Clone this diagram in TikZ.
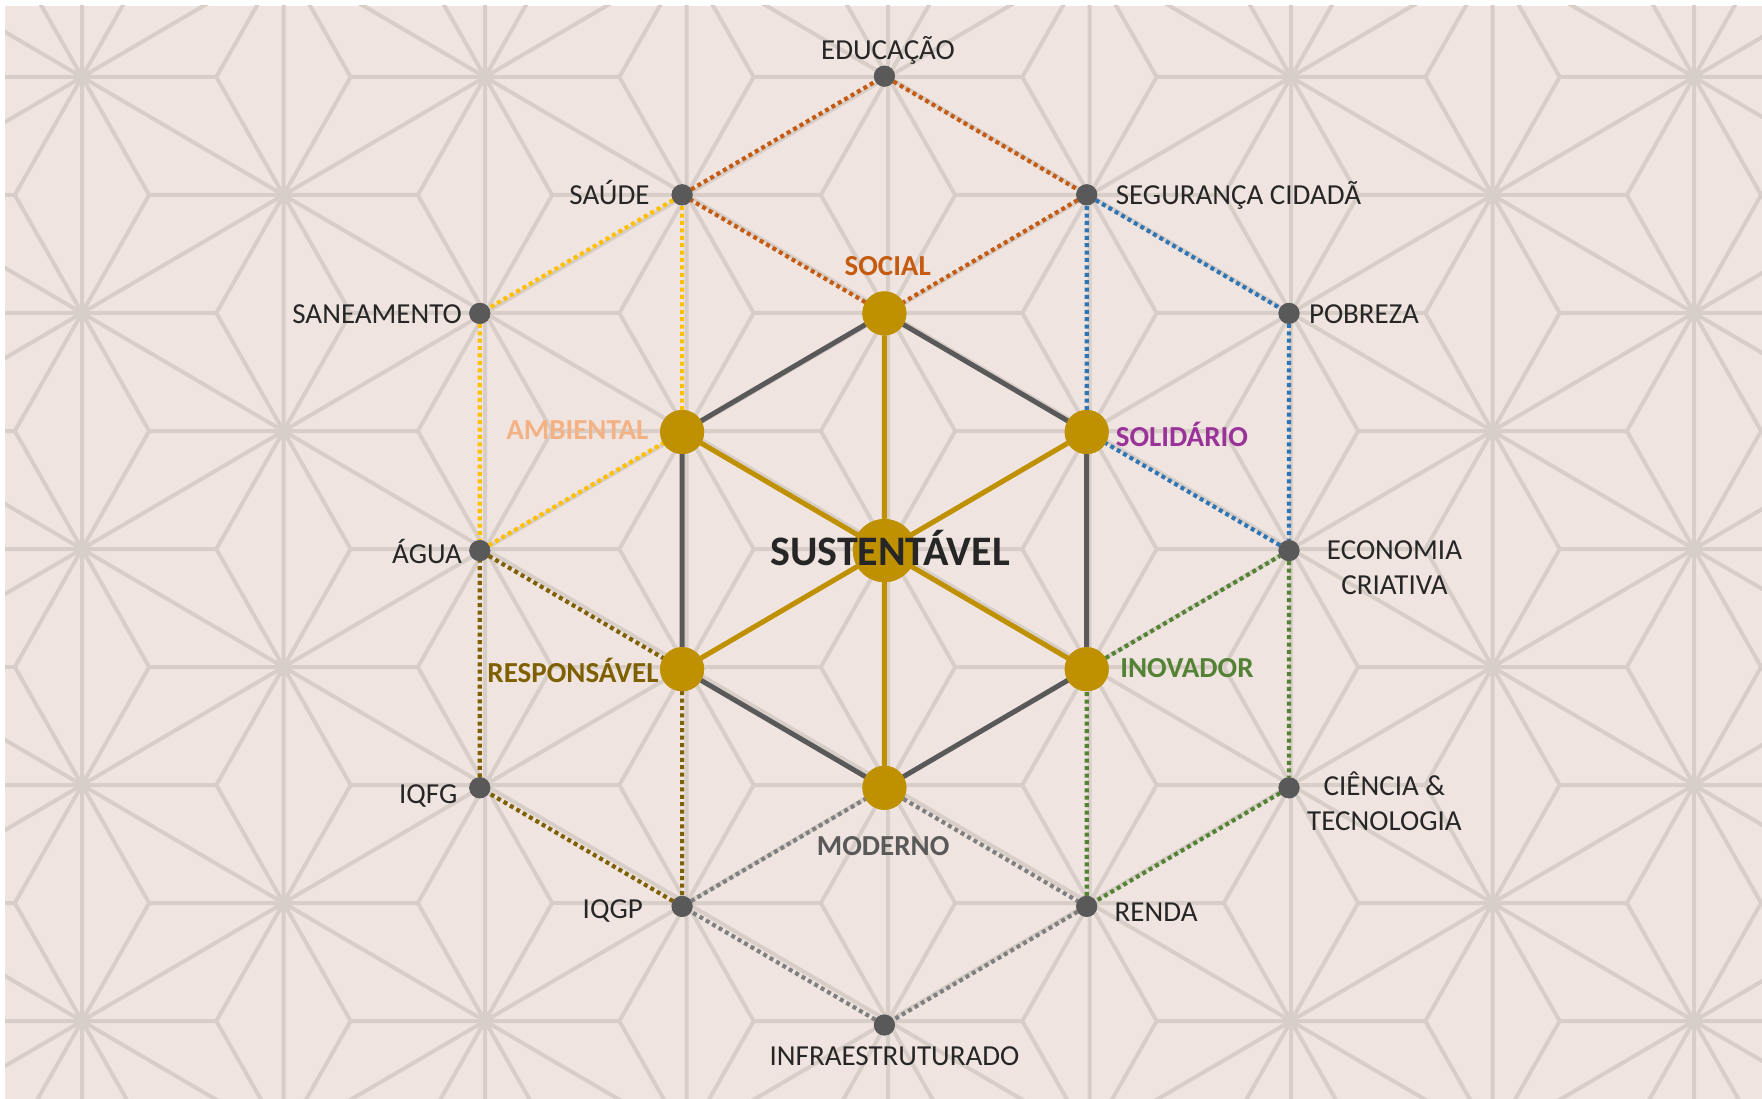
\documentclass[tikz,border=0pt]{standalone}
\usepackage{fontspec}
\setmainfont{Carlito}
\definecolor{bgc}{HTML}{EFE4DF}
\definecolor{patc}{HTML}{D8CEC8}
\definecolor{gold}{HTML}{BF9000}
\definecolor{dgray}{HTML}{595959}
\definecolor{mgray}{HTML}{7F7F7F}
\definecolor{txt}{HTML}{262626}
\definecolor{corange}{HTML}{C55A11}
\definecolor{cyellow}{HTML}{FFC000}
\definecolor{clight}{HTML}{F4B183}
\definecolor{cblue}{HTML}{2E75B6}
\definecolor{cpurple}{HTML}{993399}
\definecolor{cgreen}{HTML}{548235}
\definecolor{cbrown}{HTML}{7F6000}
\begin{document}
\begin{tikzpicture}[x=1pt,y=-1pt,
  pat/.style={draw=patc, line width=4pt, line cap=round},
  dot/.style={circle, fill=dgray, minimum size=21pt, inner sep=0pt, outer sep=0pt},
  gnode/.style={circle, fill=gold, minimum size=44pt, inner sep=0pt, outer sep=0pt},
  cnode/.style={circle, fill=gold, minimum size=63pt, inner sep=0pt, outer sep=0pt},
  dl/.style={line width=4.2pt, dash pattern=on 4pt off 3.4pt},
  sl/.style={line width=5pt},
  lbl/.style={inner sep=0pt, outer sep=0pt, text=txt, font=\fontsize{29}{35}\selectfont},
  blbl/.style={inner sep=0pt, outer sep=0pt, font=\fontsize{29}{35}\selectfont\bfseries}
]
\useasboundingbox (0,0) rectangle (1762,1099);
\fill[white] (0,0) rectangle (1762,1099);
\fill[bgc] (5,6) rectangle (1762,1099);
% background asanoha pattern
\begin{scope}
\clip (5,6) rectangle (1762,1099);
\begin{scope}[shift={(888,549)}, x=201.5pt, y=-118pt]
\foreach \i in {-5,...,5} {
  \foreach \j in {-6,...,6} {
    \pgfmathparse{int(mod(\i+\j+100,2))}
    \ifnum\pgfmathresult=0
      \draw[pat] (\i,\j) -- ++(0,2) (\i,\j) -- ++(1,1) (\i,\j) -- ++(1,-1)
        (\i,\j) -- ++(2/3,0) (\i,\j) -- ++(-2/3,0)
        (\i,\j) -- ++(1/3,1) (\i,\j) -- ++(1/3,-1)
        (\i,\j) -- ++(-1/3,1) (\i,\j) -- ++(-1/3,-1);
    \fi
  }
}
\end{scope}
\end{scope}
% nodes
\begin{scope}[shift={(884.4,550.6)}, x=202.3pt, y=-118.6pt]
\node[dot] (edu) at (0,-4) {};
\node[dot] (sau) at (-1,-3) {};
\node[dot] (seg) at (1,-3) {};
\node[dot] (san) at (-2,-2) {};
\node[gnode] (soc) at (0,-2) {};
\node[dot] (pob) at (2,-2) {};
\node[gnode] (amb) at (-1,-1) {};
\node[gnode] (sol) at (1,-1) {};
\node[dot] (agu) at (-2,0) {};
\node[cnode] (sus) at (0,0) {};
\node[dot] (eco) at (2,0) {};
\node[gnode] (res) at (-1,1) {};
\node[gnode] (ino) at (1,1) {};
\node[dot] (iqfg) at (-2,2) {};
\node[gnode] (mod) at (0,2) {};
\node[dot] (cie) at (2,2) {};
\node[dot] (iqgp) at (-1,3) {};
\node[dot] (ren) at (1,3) {};
\node[dot] (inf) at (0,4) {};
\end{scope}
% connectors
\draw[dl, corange] (sau) -- (edu) -- (seg) -- (soc) -- (sau);
\draw[dl, cyellow] (amb) -- (sau) -- (san) -- (agu) -- (amb);
\draw[dl, cblue] (seg) -- (pob) -- (eco) -- (sol) -- (seg);
\draw[dl, cgreen] (ino) -- (eco) -- (cie) -- (ren) -- (ino);
\draw[dl, mgray] (mod) -- (ren) -- (inf) -- (iqgp) -- (mod);
\draw[dl, cbrown] (agu) -- (res) -- (iqgp) -- (iqfg) -- (agu);
\draw[sl, dgray] (soc) -- (sol) -- (ino) -- (mod) -- (res) -- (amb) -- (soc);
\draw[sl, gold] (sus) -- (soc) (sus) -- (sol) (sus) -- (ino) (sus) -- (mod) (sus) -- (res) (sus) -- (amb);
% redraw node discs on top of connectors
\foreach \n in {edu,sau,seg,san,pob,agu,eco,iqfg,cie,iqgp,ren,inf}
  \fill[dgray] (\n.center) circle (10.5);
\foreach \n in {soc,amb,sol,res,ino,mod}
  \fill[gold] (\n.center) circle (22);
\fill[gold] (sus.center) circle (31.5);
% labels
\node[lbl, anchor=base] (tedu) at (888,59.9) {EDUCAÇÃO};
\node[lbl, anchor=base east] (tsau) at (649.5,205) {SAÚDE};
\node[lbl, anchor=base west] (tseg) at (1115.8,205) {SEGURANÇA CIDADÃ};
\node[lbl, anchor=base east] (tsan) at (461.8,324) {SANEAMENTO};
\node[lbl, anchor=base west] (tpob) at (1309,324) {POBREZA};
\node[blbl, anchor=base, text=corange] (tsoc) at (887.7,275.6) {SOCIAL};
\node[blbl, anchor=base east, text=clight] (tamb) at (648.4,439.7) {AMBIENTAL};
\node[blbl, anchor=base west, text=cpurple] (tsol) at (1115.8,446.3) {SOLIDÁRIO};
\node[inner sep=0pt, anchor=base, text=txt, font=\fontsize{42}{48}\selectfont\bfseries] (tsus) at (890,565.5) {SUSTENTÁVEL};
\node[lbl, anchor=base east] (tagu) at (461.8,563) {ÁGUA};
\node[lbl, anchor=base] (teco1) at (1394.5,559.9) {ECONOMIA};
\node[lbl, anchor=base] (teco2) at (1394.5,594.7) {CRIATIVA};
\node[blbl, anchor=base east, text=cbrown] (tres) at (658.5,682.3) {RESPONSÁVEL};
\node[blbl, anchor=base west, text=cgreen] (tino) at (1120.3,677.9) {INOVADOR};
\node[lbl, anchor=base east] (tiqfg) at (457.3,803) {IQFG};
\node[blbl, anchor=base, text=dgray] (tmod) at (883.2,855.4) {MODERNO};
\node[lbl, anchor=base] (tcie1) at (1384.4,795.9) {CIÊNCIA \&};
\node[lbl, anchor=base] (tcie2) at (1384.4,830.7) {TECNOLOGIA};
\node[lbl, anchor=base east] (tiqgp) at (642.8,918) {IQGP};
\node[lbl, anchor=base west] (tren) at (1114.7,921.7) {RENDA};
\node[lbl, anchor=base] (tinf) at (894.5,1065.6) {INFRAESTRUTURADO};
\end{tikzpicture}
\end{document}
